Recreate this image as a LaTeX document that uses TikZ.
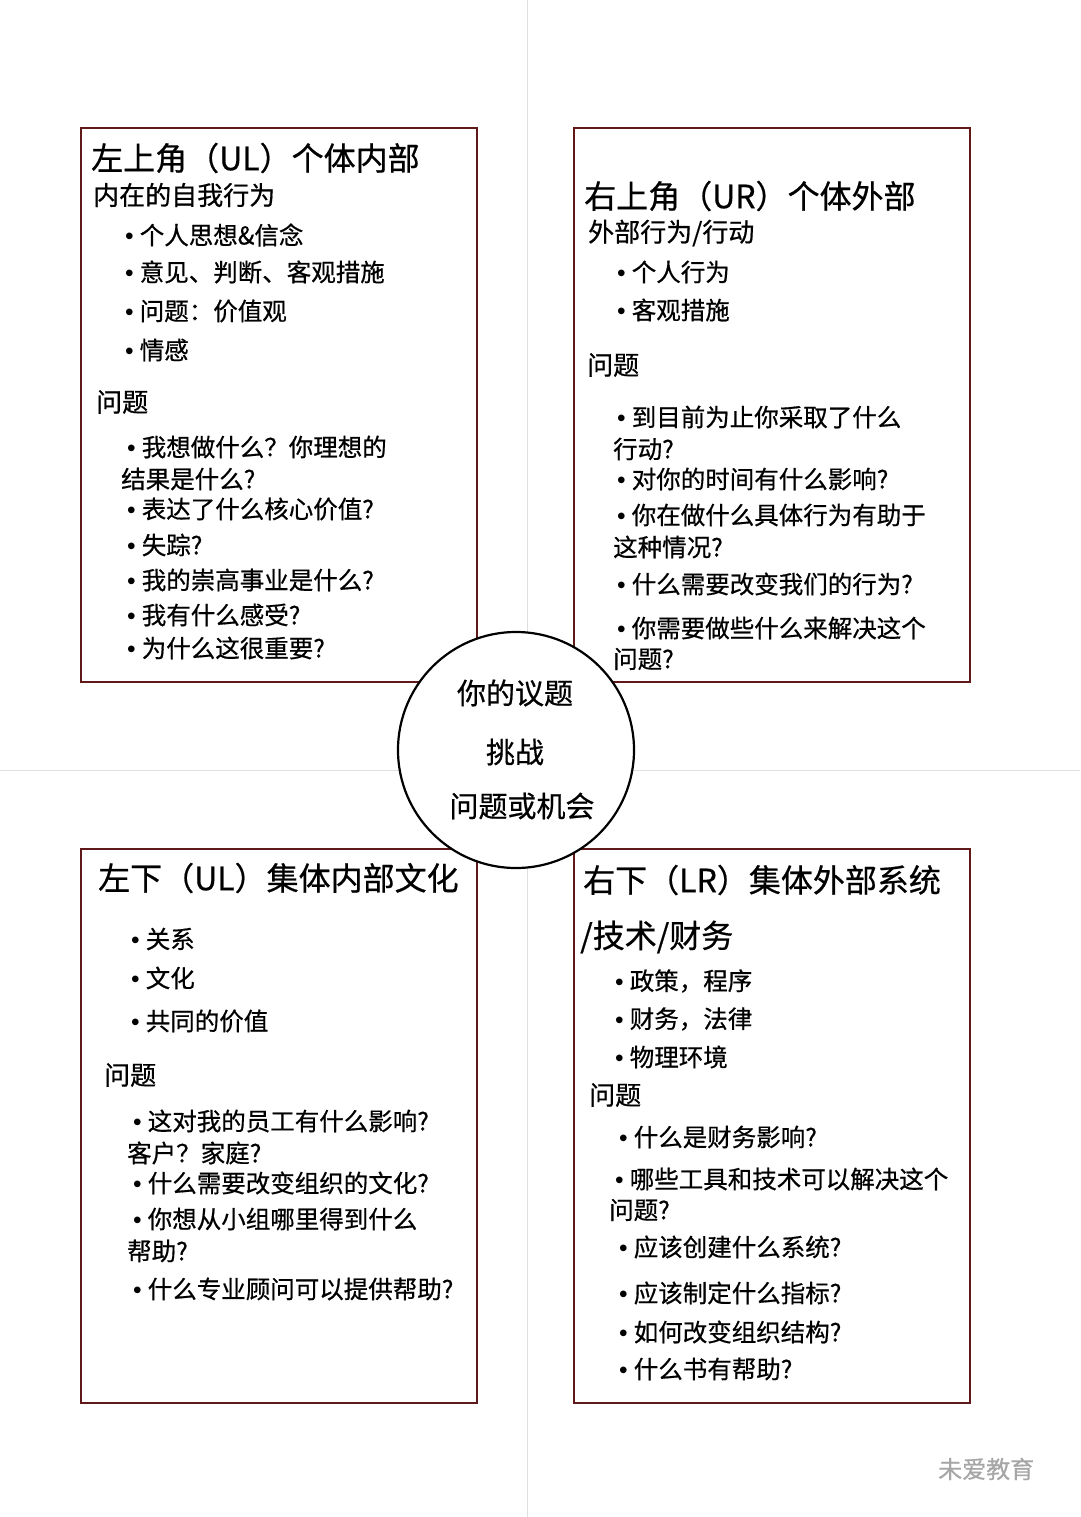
\documentclass[tikz,border=0pt]{standalone}
\usepackage{fontspec}
\setmainfont{Noto Sans CJK SC}[FakeBold=0.6]
\newfontfamily\bltfont{Liberation Sans}
\newcommand\bu{{\bltfont •}\hspace{6pt}}
\definecolor{boxred}{RGB}{95,25,25}
\tikzset{
  quad/.style={draw=boxred, line width=2.2pt, fill=white},
  head/.style={anchor=west, inner sep=0pt, font=\fontsize{32}{34}\selectfont},
  sub/.style={anchor=west, inner sep=0pt, font=\fontsize{26}{28}\selectfont},
  body/.style={anchor=west, inner sep=0pt, font=\fontsize{24.5}{26}\selectfont}
}
\begin{document}
\begin{tikzpicture}[x=1pt,y=-1pt]
\useasboundingbox (0,0) rectangle (1080,1517);
% faint cross
\draw[gray!25, line width=1pt] (527,0) -- (527,1517);
\draw[gray!25, line width=1pt] (0,770) -- (1080,770);
% boxes
\foreach \n/\x/\y in {ul/81/128, ur/574/128, ll/81/849, lr/574/849}
  \draw[quad] (\x,\y) rectangle ++(396,554) coordinate (\n box);
% upper left
\node[head] (ultitle) at (91,158) {左上角（UL）个体内部};
\node[sub] (ulsub) at (93,195) {内在的自我行为};
\foreach \x/\y/\t [count=\i] in {125/235/\bu 个人思想\&信念, 125/272/\bu 意见、判断、客观措施, 125/311/\bu 问题：价值观, 125/350/\bu 情感}
  \node[body] (ulb\i) at (\x,\y) {\t};
\node[sub] (ulq) at (96,402) {问题};
\foreach \x/\y/\t [count=\i] in {127/447/\bu 我想做什么？你理想的, 121/479/结果是什么?, 127/509/\bu 表达了什么核心价值?, 127/545/\bu 失踪?, 127/580/\bu 我的崇高事业是什么?, 127/615/\bu 我有什么感受?, 127/648/\bu 为什么这很重要?}
  \node[body] (ulq\i) at (\x,\y) {\t};
% upper right
\node[head] (urtitle) at (584,196) {右上角（UR）个体外部};
\node[sub] (ursub) at (588,233) {外部行为/行动};
\foreach \x/\y/\t [count=\i] in {617/272/\bu 个人行为, 617/310/\bu 客观措施}
  \node[body] (urb\i) at (\x,\y) {\t};
\node[sub] (urq) at (587,365) {问题};
\foreach \x/\y/\t [count=\i] in {617/417/\bu 到目前为止你采取了什么, 613/449/行动?, 617/479/\bu 对你的时间有什么影响?, 617/515/\bu 你在做什么具体行为有助于, 613/547/这种情况?, 617/584/\bu 什么需要改变我们的行为?, 617/628/\bu 你需要做些什么来解决这个, 613/659/问题?}
  \node[body] (urq\i) at (\x,\y) {\t};
% lower left
\node[head] (lltitle) at (98,878) {左下（UL）集体内部文化};
\foreach \x/\y/\t [count=\i] in {131/939/\bu 关系, 131/978/\bu 文化, 131/1021/\bu 共同的价值}
  \node[body] (llb\i) at (\x,\y) {\t};
\node[sub] (llq) at (104,1075) {问题};
\foreach \x/\y/\t [count=\i] in {133/1121/\bu 这对我的员工有什么影响?, 127/1153/客户？家庭?, 133/1183/\bu 什么需要改变组织的文化?, 133/1219/\bu 你想从小组哪里得到什么, 127/1251/帮助?, 133/1289/\bu 什么专业顾问可以提供帮助?}
  \node[body] (llq\i) at (\x,\y) {\t};
% lower right
\node[head] (lrtitle) at (583,880) {右下（LR）集体外部系统};
\node[head] (lrtitle2) at (580,937) {/技术/财务};
\foreach \x/\y/\t [count=\i] in {615/981/\bu 政策，程序, 615/1019/\bu 财务，法律, 615/1057/\bu 物理环境}
  \node[body] (lrb\i) at (\x,\y) {\t};
\node[sub] (lrq) at (589,1095) {问题};
\foreach \x/\y/\t [count=\i] in {619/1137/\bu 什么是财务影响?, 615/1179/\bu 哪些工具和技术可以解决这个, 609/1210/问题?, 619/1247/\bu 应该创建什么系统?, 619/1293/\bu 应该制定什么指标?, 619/1332/\bu 如何改变组织结构?, 619/1369/\bu 什么书有帮助?}
  \node[body] (lrq\i) at (\x,\y) {\t};
% centre
\draw[fill=white, line width=2.2pt] (516,750) circle (118);
\node[font=\fontsize{29}{31}\selectfont, inner sep=0pt] (c1) at (515,693) {你的议题};
\node[font=\fontsize{29}{31}\selectfont, inner sep=0pt] (c2) at (515,752) {挑战};
\node[font=\fontsize{29}{31}\selectfont, inner sep=0pt] (c3) at (522,806) {问题或机会};
% watermark
\node[anchor=west, inner sep=0pt, text=gray!70, font=\fontsize{24}{26}\selectfont] (mark) at (938,1469) {未爱教育};
\end{tikzpicture}
\end{document}
